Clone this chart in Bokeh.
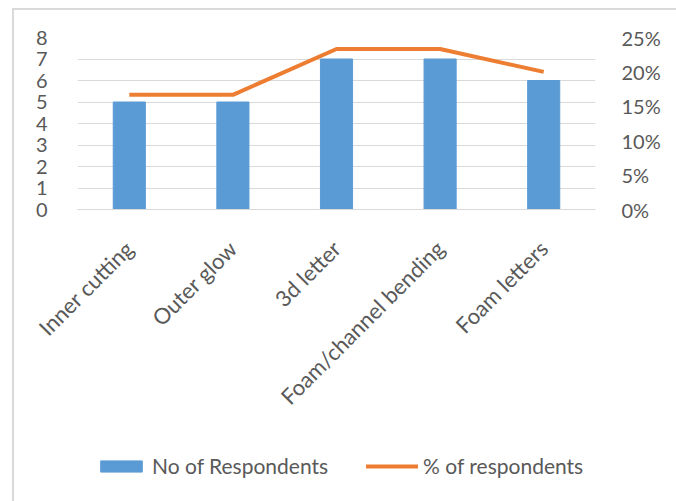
import math
from bokeh.plotting import figure
from bokeh.layouts import column
from bokeh.models import (ColumnDataSource, Range1d, LinearAxis, Legend, LegendItem,
                          NumeralTickFormatter, FixedTicker)
from bokeh.embed import file_html
from bokeh.resources import INLINE

categories = ["Inner cutting", "Outer glow", "3d letter", "Foam/channel bending", "Foam letters"]
respondents = [5, 5, 7, 7, 6]
pct_respondents = [0.1667, 0.1667, 0.2333, 0.2333, 0.20]
left_ticks = [0, 1, 2, 3, 4, 5, 6, 7, 8]
right_ticks = [0, 0.05, 0.10, 0.15, 0.20, 0.25]

FONT = "Lato"
TEXT = "#595959"
GRID = "#d9d9d9"
BAR_COLOR = "#5b9bd5"
LINE_COLOR = "#ed7d31"

src = ColumnDataSource(dict(cat=categories, n=respondents, pct=pct_respondents))

# main chart: bars on the count axis, line on the percentage axis
p = figure(width=676, height=440, x_range=categories, y_range=Range1d(0, 8),
           output_backend="svg", toolbar_location=None,
           min_border_left=77, min_border_right=81, min_border_top=37,
           min_border_bottom=231)
p.outline_line_color = None
p.background_fill_color = "white"
p.border_fill_color = None

p.extra_y_ranges = {"pct": Range1d(0, 0.25)}

p.vbar(x="cat", top="n", width=0.31, source=src, color=BAR_COLOR)
p.line(x="cat", y="pct", source=src, y_range_name="pct",
       line_color=LINE_COLOR, line_width=4, line_join="round")

# left axis
yl = p.yaxis[0]
yl.ticker = FixedTicker(ticks=left_ticks)
yl.axis_line_color = None
yl.major_tick_line_color = None
yl.minor_tick_line_color = None
yl.major_label_text_font = FONT
yl.major_label_text_font_size = "20px"
yl.major_label_text_color = TEXT
yl.major_label_standoff = 24

# right axis
yr = LinearAxis(y_range_name="pct", ticker=FixedTicker(ticks=right_ticks),
                formatter=NumeralTickFormatter(format="0%"))
yr.axis_line_color = None
yr.major_tick_line_color = None
yr.minor_tick_line_color = None
yr.major_label_text_font = FONT
yr.major_label_text_font_size = "20px"
yr.major_label_text_color = TEXT
yr.major_label_standoff = 20
p.add_layout(yr, "right")

# category axis
xa = p.xaxis[0]
xa.axis_line_color = GRID
xa.major_tick_line_color = None
xa.minor_tick_line_color = None
xa.major_label_orientation = math.pi / 4
xa.major_label_text_font = FONT
xa.major_label_text_font_size = "22px"
xa.major_label_text_color = TEXT
xa.major_label_standoff = 29

p.xgrid.grid_line_color = None
p.ygrid.grid_line_color = GRID
p.ygrid.ticker = FixedTicker(ticks=left_ticks)

# legend strip underneath the chart (its frame lines up with the chart frame)
lg = figure(width=676, height=61, x_range=Range1d(0, 1), y_range=Range1d(0, 1),
            output_backend="svg", toolbar_location=None,
            min_border=0, min_border_left=0, min_border_right=0,
            min_border_top=0, min_border_bottom=0)
lg.axis.visible = False
lg.grid.visible = False
lg.outline_line_color = None
lg.border_fill_color = None
lg.background_fill_color = None
key_bar = lg.vbar(x=[float("nan")], top=[float("nan")], width=0.1, color=BAR_COLOR)
key_line = lg.line(x=[float("nan")], y=[float("nan")], line_color=LINE_COLOR,
                   line_width=4, line_cap="round")

legend = Legend(items=[LegendItem(label="No of Respondents", renderers=[key_bar]),
                       LegendItem(label="% of respondents", renderers=[key_line])],
                orientation="horizontal", location=(18, 23), margin=0, padding=0,
                label_text_font=FONT, label_text_font_size="21px",
                label_text_color=TEXT, glyph_width=52, glyph_height=14,
                spacing=38, label_standoff=5, border_line_color=None,
                background_fill_alpha=0)
lg.add_layout(legend, "center")

# light chart-area border along the top and left edges
chart_border = {
    "background-color": "white",
    "background-image": "linear-gradient(#d9d9d9, #d9d9d9), linear-gradient(#d9d9d9, #d9d9d9)",
    "background-size": "2px 493px, 664px 2px",
    "background-position": "12px 8px, 12px 8px",
    "background-repeat": "no-repeat",
}
layout = column(p, lg, spacing=0, styles=chart_border)
open("out.html", "w").write(file_html(layout, INLINE))
